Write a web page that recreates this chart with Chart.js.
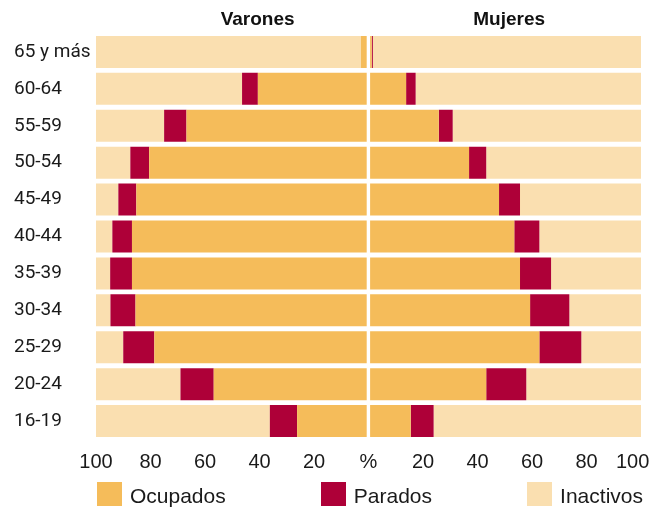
<!DOCTYPE html>
<html>
<head>
<meta charset="utf-8">
<script src="https://cdn.jsdelivr.net/npm/chart.js@4"></script>
<style>
  body { margin: 0; background: #fff; }
  #wrap { position: relative; width: 654px; height: 509px; }
  #legend {
    position: absolute; left: 97px; right: 11px; top: 482px;
    display: flex; justify-content: space-between;
    font-family: 'Liberation Sans', Arial, sans-serif; font-size: 21px; color: #1a1a1a;
  }
  #legend .item { display: flex; align-items: flex-end; }
  #legend .box { width: 25px; height: 24px; margin-right: 8px; }
  #legend .txt { line-height: 24px; position: relative; top: 2px; }
</style>
</head>
<body>
<div id="wrap">
  <canvas id="pyramid" width="654" height="509"></canvas>
  <div id="legend"></div>
</div>
<script>
  'use strict';

  // Age groups, top to bottom
  var ageGroups = ['65 y más', '60-64', '55-59', '50-54', '45-49', '40-44',
                   '35-39', '30-34', '25-29', '20-24', '16-19'];
  var panelTitles = ['Varones', 'Mujeres'];
  var seriesNames = ['Ocupados', 'Parados', 'Inactivos'];
  var seriesColors = ['#F5BC5A', '#AE0038', '#FADFB0'];
  var xTicks = [-100, -80, -60, -40, -20, 0, 20, 40, 60, 80, 100];

  // % of each group
  var varonesOcupados  = [2.8, 40.6, 66.8, 80.5, 85.2, 86.8, 86.8, 85.5, 78.6, 56.8, 26.2];
  var varonesParados   = [0, 5.8, 8.2, 6.9, 6.6, 7.2, 8.0, 9.2, 11.4, 12.2, 10.0];
  var varonesInactivos = [97.2, 53.6, 25.0, 12.6, 8.2, 6.0, 5.2, 5.3, 10.0, 31.0, 63.8];

  var mujeresOcupados  = [1.2, 13.8, 25.8, 36.9, 47.9, 53.5, 55.6, 59.3, 62.7, 43.2, 15.5];
  var mujeresParados   = [0.4, 3.5, 5.1, 6.3, 7.7, 9.2, 11.4, 14.4, 15.4, 14.7, 8.4];
  var mujeresInactivos = [98.4, 82.7, 69.1, 56.8, 44.4, 37.3, 33.0, 26.3, 21.9, 42.1, 76.1];

  var leftSeries = [varonesOcupados, varonesParados, varonesInactivos];
  var rightSeries = [mujeresOcupados, mujeresParados, mujeresInactivos];

  var datasets = [];
  seriesNames.forEach(function(name, i) {
    datasets.push({
      label: name,
      data: leftSeries[i].map(function(v) { return -v; }),
      backgroundColor: seriesColors[i],
      stack: 'pyr'
    });
  });
  seriesNames.forEach(function(name, i) {
    datasets.push({
      label: name,
      data: rightSeries[i],
      backgroundColor: seriesColors[i],
      stack: 'pyr'
    });
  });

  // white split down the middle + panel titles
  var pyramidDeco = {
    id: 'pyramidDeco',
    afterDatasetsDraw: function(chart) {
      var ctx = chart.ctx, x = chart.scales.x, area = chart.chartArea;
      var x0 = x.getPixelForValue(0);
      ctx.save();
      ctx.fillStyle = '#fff';
      ctx.fillRect(x0 - 1.8, area.top, 3.4, area.bottom - area.top);
      ctx.fillStyle = '#111';
      ctx.font = 'bold 19px "Liberation Sans", Arial, sans-serif';
      ctx.textAlign = 'center';
      ctx.textBaseline = 'middle';
      ctx.fillText(panelTitles[0], x.getPixelForValue(-40.7), 20);
      ctx.fillText(panelTitles[1], x.getPixelForValue(51.6), 20);
      ctx.restore();
    }
  };

  var chart = new Chart(document.getElementById('pyramid').getContext('2d'), {
    type: 'bar',
    data: { labels: ageGroups, datasets: datasets },
    options: {
      indexAxis: 'y',
      responsive: false,
      animation: false,
      layout: { padding: { top: 33.5, left: 14, right: 13, bottom: 34.5 } },
      datasets: { bar: { barPercentage: 0.867, categoryPercentage: 1, borderWidth: 0 } },
      plugins: { legend: { display: false }, tooltip: { enabled: false } },
      scales: {
        x: {
          stacked: true,
          min: -100,
          max: 100,
          afterBuildTicks: function(scale) {
            scale.ticks = xTicks.map(function(v) { return { value: v }; });
          },
          afterFit: function(scale) {
            scale.height = 35;
            scale.paddingLeft = 0;
            scale.paddingRight = 0;
          },
          grid: { display: false, drawTicks: false },
          border: { display: false },
          ticks: {
            autoSkip: false,
            maxRotation: 0,
            padding: 11,
            color: '#1a1a1a',
            font: { family: '"Liberation Sans", Arial, sans-serif', size: 20 },
            callback: function(v) {
              if (v === 0) return '%';
              // last label sits a little inside the edge, as in the print
              return v === 100 ? '100   ' : String(Math.abs(v));
            }
          }
        },
        y: {
          stacked: true,
          grid: { display: false, drawTicks: false },
          border: { display: false },
          afterFit: function(scale) {
            scale.width = 82;
            scale.paddingTop = 0;
            scale.paddingBottom = 0;
          },
          ticks: {
            crossAlign: 'far',
            color: '#1a1a1a',
            font: { family: 'Roboto, sans-serif', size: 19 }
          }
        }
      }
    },
    plugins: [pyramidDeco]
  });

  // legend below the chart
  var legendEl = document.getElementById('legend');
  seriesNames.forEach(function(name, i) {
    var item = document.createElement('div');
    item.className = 'item';
    item.innerHTML = '<span class="box" style="background:' + seriesColors[i] + '"></span>' +
                     '<span class="txt">' + name + '</span>';
    legendEl.appendChild(item);
  });
</script>
</body>
</html>
